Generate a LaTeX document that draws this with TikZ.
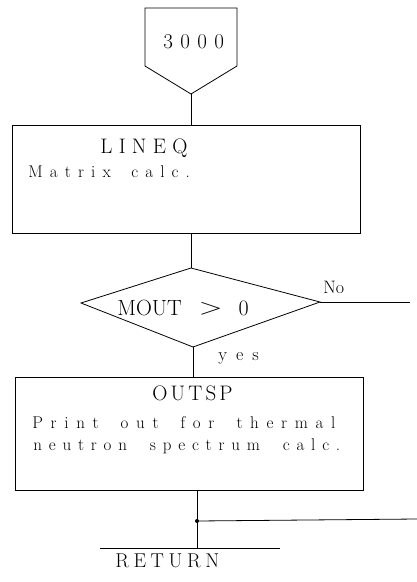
\documentclass[tikz,border=0pt]{standalone}
\usepackage{fontspec}
\usetikzlibrary{calc}
% letter spaced text, as typed: \spaced{letter gap}{word gap}{text}
\makeatletter
\newcommand\spaced[3]{\def\sp@gap{#1}\def\sp@wgap{#2}\sp@words#3 \@nil}
\def\sp@words#1 #2\@nil{\sp@word{#1}%
  \ifx\relax#2\relax\else\hspace{\sp@wgap}\sp@words#2\@nil\fi}
\def\sp@word#1{\@tempswafalse
  \@tfor\sp@c:=#1\do{\if@tempswa\kern\sp@gap\fi\@tempswatrue\sp@c}}
\makeatother
\newcommand{\fsz}[1]{\fontsize{#1}{#1}\selectfont}
\tikzset{
  flow/.style={line width=0.8pt},
  procbox/.style={draw,line width=0.8pt,inner sep=0pt},
  txt/.style={anchor=base west,inner sep=0pt},
}
\begin{document}
\begin{tikzpicture}[x=1pt,y=-1pt,flow]
  \useasboundingbox (0,0) rectangle (417,582);
  % ---------- entry connector 3000
  \coordinate (entry) at (191,94);
  \draw[flow] (145,8) -- (237,8) -- (237,66) -- (entry) -- (145,66) -- cycle;
  \node[txt,font=\fsz{21}] (lab3000) at (163,48) {\spaced{0.35em}{1em}{3000}};
  % ---------- LINEQ box
  \node[procbox,minimum width=348pt,minimum height=108pt] (lineq) at (186,179) {};
  \node[txt,font=\fsz{21}] (lineqname) at (100,153) {\spaced{0.3em}{1em}{LINEQ}};
  \node[txt,font=\fsz{17}] (lineqtext) at (28,177) {\spaced{0.42em}{1.2em}{Matrix calc.}};
  \draw[flow] (entry) -- (entry |- lineq.north);
  % ---------- decision MOUT > 0
  \coordinate (dtop) at (191,268);
  \coordinate (dright) at (320,302);
  \coordinate (dbot) at (193,347);
  \coordinate (dleft) at (81,303);
  \draw[flow] (dtop) -- (dright) -- (dbot) -- (dleft) -- cycle;
  \node[txt,font=\fsz{22}] (cond) at (117,315)
    {MOUT\hspace{17pt}\raisebox{1pt}{\scalebox{1.5}[1.1]{$>$}}\hspace{16pt}0};
  \draw[flow] (dtop |- lineq.south) -- (dtop);
  \coordinate (noexit) at (410,302);
  \draw[flow] (dright) -- (noexit);
  \node[txt,font=\fsz{18}] (no) at (323,293) {No};
  \node[txt,font=\fsz{18}] (yes) at (218,360) {\spaced{0.5em}{1em}{yes}};
  % ---------- OUTSP box
  \node[procbox,minimum width=348pt,minimum height=113pt] (outsp) at (189,433.5) {};
  \draw[flow] (dbot) -- (dbot |- outsp.north);
  \node[txt,font=\fsz{21}] (outspname) at (152,400) {\spaced{0.15em}{1em}{OUTSP}};
  \node[txt,font=\fsz{17}] (outspline1) at (32,428) {\spaced{0.45em}{1.3em}{Print out for thermal}};
  \node[txt,font=\fsz{17}] (outspline2) at (33,450) {\spaced{0.4em}{1.35em}{neutron spectrum calc.}};
  % ---------- junction and return
  \coordinate (outbot) at (197,490);
  \coordinate (join) at (197,521);
  \coordinate (loopin) at (417,519);
  \coordinate (retl) at (100,548);
  \coordinate (retr) at (280,548);
  \draw[flow] (outbot) -- (outbot |- retl);
  \fill (join) circle (2pt);
  \draw[flow] (join) -- (loopin);
  \draw[flow] (retl) -- (retr);
  \node[txt,font=\fsz{20}] (ret) at (115,567) {\spaced{0.23em}{1em}{RETURN}};
\end{tikzpicture}
\end{document}
